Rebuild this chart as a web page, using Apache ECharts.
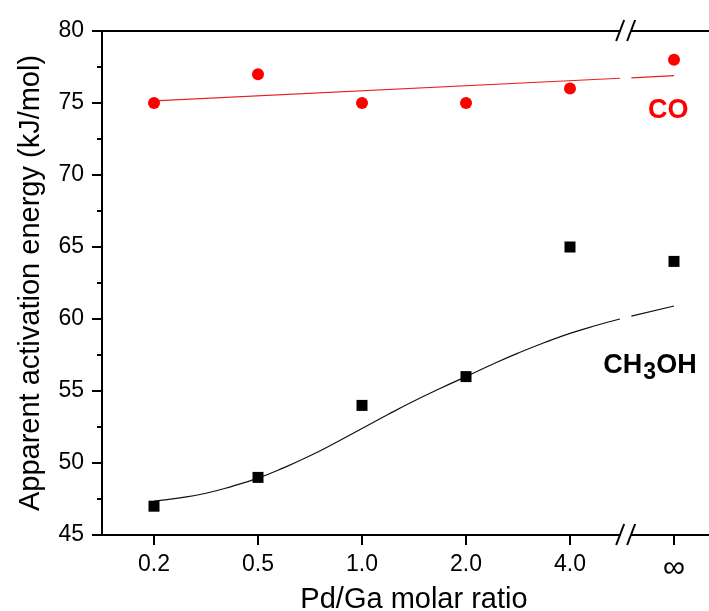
<!DOCTYPE html>
<html><head><meta charset="utf-8">
<script src="https://cdn.jsdelivr.net/npm/echarts@6/dist/echarts.min.js"></script>
<style>html,body{margin:0;padding:0;background:#fff}#c{width:709px;height:611px}</style>
</head><body><div id="c"></div>
<script>
const categories = ['0.2', '0.5', '1.0', '2.0', '4.0', '∞'];
const coValues = [75, 77, 75, 75, 76, 78];
const ch3ohValues = [47, 49, 54, 56, 65, 64];
// fitted curves (x = category index), split at the axis break
const coFitA = [[0, 75.15], [4.48, 76.72]];
const coFitB = [[4.59, 76.74], [5, 76.9]];
const ch3ohFitA = [[0, 47.35], [0.25, 47.58], [0.5, 47.9], [0.75, 48.38], [1, 48.95], [1.25, 49.68], [1.5, 50.5],
  [1.75, 51.43], [2, 52.4], [2.25, 53.37], [2.5, 54.3], [2.75, 55.17], [3, 56.0], [3.25, 56.84], [3.5, 57.63],
  [3.75, 58.35], [4, 59.0], [4.25, 59.55], [4.48, 60.0]];
const ch3ohFitB = [[4.59, 60.2], [5, 60.9]];
const yMin = 45, yMax = 80, yInterval = 5;
const breakAt = 4.535;
const labelCO = [4.75, 74.5];
const labelCH3OH = [4.32, 56.8];

const FONT = '"Liberation Sans", Arial, sans-serif';
const chart = echarts.init(document.getElementById('c'), null, {renderer: 'canvas'});

const option = {
  backgroundColor: '#fff',
  animation: false,
  grid: {left: 102, top: 31, width: 624, height: 504, containLabel: false, outerBoundsMode: 'none'},
  xAxis: [{
    type: 'category', data: categories, boundaryGap: true, position: 'bottom',
    axisLine: {show: true, lineStyle: {color: '#000', width: 2}},
    axisTick: {show: true, alignWithLabel: true, length: 10, lineStyle: {color: '#000', width: 2}},
    axisLabel: {
      fontSize: 23, color: '#000', fontFamily: FONT, margin: 18,
      formatter: function (v) { return v === '∞' ? '{inf|∞}' : v; },
      rich: {inf: {fontSize: 31, color: '#000', fontFamily: FONT}}
    },
    splitLine: {show: false},
    name: 'Pd/Ga molar ratio', nameLocation: 'middle', nameGap: 50, nameMoveOverlap: false,
    nameTextStyle: {fontSize: 29, color: '#000', fontFamily: FONT}
  }, {
    type: 'value', min: -0.5, max: 5.5, position: 'top',
    axisLine: {show: true, onZero: false, lineStyle: {color: '#000', width: 2}},
    axisTick: {show: false}, axisLabel: {show: false}, splitLine: {show: false}
  }],
  yAxis: {
    type: 'value', min: yMin, max: yMax, interval: yInterval,
    axisLine: {show: true, onZero: false, lineStyle: {color: '#000', width: 2}},
    axisTick: {show: true, length: 10, lineStyle: {color: '#000', width: 2}},
    minorTick: {show: true, splitNumber: 2, length: 5, lineStyle: {color: '#000', width: 2}},
    splitLine: {show: false}, minorSplitLine: {show: false},
    axisLabel: {fontSize: 23, color: '#000', fontFamily: FONT, margin: 18},
    name: 'Apparent activation energy (kJ/mol)', nameLocation: 'middle', nameGap: 57, nameMoveOverlap: false,
    nameTextStyle: {fontSize: 29, color: '#000', fontFamily: FONT}
  },
  series: [
    {type: 'line', xAxisIndex: 1, data: coFitA, showSymbol: false, symbol: 'none', lineStyle: {color: '#e82020', width: 1.2}, z: 2},
    {type: 'line', xAxisIndex: 1, data: coFitB, showSymbol: false, symbol: 'none', lineStyle: {color: '#e82020', width: 1.2}, z: 2},
    {type: 'line', xAxisIndex: 1, data: ch3ohFitA, smooth: 0.5, showSymbol: false, symbol: 'none', lineStyle: {color: '#111', width: 1.2}, z: 2},
    {type: 'line', xAxisIndex: 1, data: ch3ohFitB, showSymbol: false, symbol: 'none', lineStyle: {color: '#111', width: 1.2}, z: 2},
    {type: 'scatter', xAxisIndex: 0, data: coValues, symbol: 'circle', symbolSize: 12, itemStyle: {color: '#ff0000', opacity: 1}, z: 5},
    {type: 'scatter', xAxisIndex: 0, data: ch3ohValues, symbol: 'rect', symbolSize: 11, itemStyle: {color: '#000', opacity: 1}, z: 5}
  ]
};
chart.setOption(option);

const xb = chart.convertToPixel({seriesIndex: 0}, [breakAt, yMin])[0];
const yTop = chart.convertToPixel({seriesIndex: 0}, [0, yMax])[1];
const yBot = chart.convertToPixel({seriesIndex: 0}, [0, yMin])[1];
const graphics = [];
[yTop, yBot].forEach(function (y) {
  graphics.push({type: 'rect', z: 100, shape: {x: xb - 5, y: y - 3, width: 10, height: 6}, style: {fill: '#fff'}});
  [-5.5, 5.5].forEach(function (o) {
    graphics.push({type: 'line', z: 101, shape: {x1: xb + o - 4, y1: y + 10, x2: xb + o + 4, y2: y - 11}, style: {stroke: '#000', lineWidth: 2}});
  });
});
const pCO = chart.convertToPixel({seriesIndex: 0}, labelCO);
graphics.push({type: 'text', z: 110, x: pCO[0], y: pCO[1], style: {text: 'CO', fill: '#ff0000', fontSize: 27, fontWeight: 'bold', fontFamily: FONT, verticalAlign: 'middle', align: 'left'}});
const pCH = chart.convertToPixel({seriesIndex: 0}, labelCH3OH);
graphics.push({type: 'text', z: 110, x: pCH[0], y: pCH[1], style: {text: 'CH', fill: '#000', fontSize: 27, fontWeight: 'bold', fontFamily: FONT, verticalAlign: 'middle', align: 'left'}});
graphics.push({type: 'text', z: 110, x: pCH[0] + 40, y: pCH[1] + 8, style: {text: '3', fill: '#000', fontSize: 23, fontWeight: 'bold', fontFamily: FONT, verticalAlign: 'middle', align: 'left'}});
graphics.push({type: 'text', z: 110, x: pCH[0] + 53, y: pCH[1], style: {text: 'OH', fill: '#000', fontSize: 27, fontWeight: 'bold', fontFamily: FONT, verticalAlign: 'middle', align: 'left'}});
chart.setOption({graphic: graphics});
</script></body></html>
